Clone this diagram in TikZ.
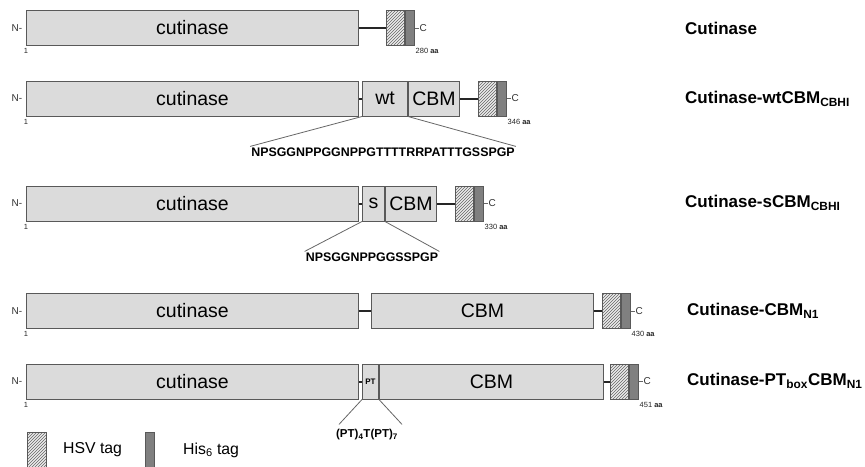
\documentclass[tikz,border=0pt]{standalone}
\usepackage{fontspec}
\setmainfont{Liberation Sans}
\usetikzlibrary{positioning,patterns}

\begin{document}
\begin{tikzpicture}[
    x=1pt, y=-1pt,
    dom/.style={rectangle, draw=black!65, fill=black!14, line width=1pt, minimum height=35pt, inner sep=0pt, anchor=west, font=\fontsize{19.5}{20}\selectfont},
    hsvtag/.style={rectangle, draw=black!65, line width=1pt, minimum height=35pt, minimum width=18pt, inner sep=0pt, anchor=west, preaction={fill=black!8}, pattern=north east lines, pattern color=black!60},
    histag/.style={rectangle, draw=black!65, fill=black!50, line width=1pt, minimum height=35pt, minimum width=9pt, inner sep=0pt, anchor=west},
    link/.style={line width=2pt, black!85},
    fan/.style={black!60, line width=0.8pt},
    endlbl/.style={font=\fontsize{10}{11}\selectfont, text=black!80, inner sep=0.5pt},
    aalbl/.style={font=\fontsize{7.5}{8}\selectfont, text=black!85, inner sep=0.5pt},
    seqlbl/.style={font=\fontsize{12.4}{13}\selectfont\bfseries, inner sep=1pt},
    namelbl/.style={font=\fontsize{17}{18}\selectfont\bfseries, anchor=west, inner sep=0pt},
    keylbl/.style={font=\fontsize{15.8}{16}\selectfont, anchor=west, inner sep=0pt}
]
\useasboundingbox (0,0) rectangle (865,466);

%  -- Cutinase  --
\node[dom, minimum width=332pt] (cut1) at (26,28) {cutinase};
\node[hsvtag] (hsv1) at (386,28) {};
\node[histag] (his1) at (hsv1.east) {};
\draw[link] (cut1) -- (hsv1);
\node[endlbl, left=3pt of cut1] (nterm1) {N-};
\node[endlbl, right=4pt of his1] (cterm1) {C};
\draw[black!60] (his1) -- (cterm1);
\node[aalbl, anchor=north] (first1) at ([yshift=-2pt]cut1.south west) {1};
\node[aalbl, anchor=north west] (len1) at ([yshift=-2pt]his1.south east) {280 \textbf{aa}};
\node[namelbl] (name1) at (685,28) {Cutinase};

%  -- Cutinase-wtCBM  --
\node[dom, minimum width=332pt] (cut2) at (26,98.5) {cutinase};
\node[dom, minimum width=45pt] (wt2) at (362,98.5) {wt};
\node[dom, minimum width=51pt] (cbm2) at (wt2.east) {CBM};
\node[hsvtag] (hsv2) at (478,98.5) {};
\node[histag] (his2) at (hsv2.east) {};
\draw[link] (cut2) -- (wt2);
\draw[link] (cbm2) -- (hsv2);
\node[endlbl, left=3pt of cut2] (nterm2) {N-};
\node[endlbl, right=4pt of his2] (cterm2) {C};
\draw[black!60] (his2) -- (cterm2);
\node[aalbl, anchor=north] (first2) at ([yshift=-2pt]cut2.south west) {1};
\node[aalbl, anchor=north west] (len2) at ([yshift=-2pt]his2.south east) {346 \textbf{aa}};
\node[seqlbl] (seq2) at (383,152) {NPSGGNPPGGNPPGTTTTRRPATTTGSSPGP};
\draw[fan] (wt2.south west) -- (seq2.north west);
\draw[fan] (cbm2.south west) -- (seq2.north east);
\node[namelbl] (name2) at (685,99) {Cutinase-wtCBM\textsubscript{CBHI}};

%  -- Cutinase-sCBM  --
\node[dom, minimum width=332pt] (cut3) at (26,203.5) {cutinase};
\node[dom, minimum width=22pt] (s3) at (362,203.5) {s};
\node[dom, minimum width=51pt] (cbm3) at (s3.east) {CBM};
\node[hsvtag] (hsv3) at (455,203.5) {};
\node[histag] (his3) at (hsv3.east) {};
\draw[link] (cut3) -- (s3);
\draw[link] (cbm3) -- (hsv3);
\node[endlbl, left=3pt of cut3] (nterm3) {N-};
\node[endlbl, right=4pt of his3] (cterm3) {C};
\draw[black!60] (his3) -- (cterm3);
\node[aalbl, anchor=north] (first3) at ([yshift=-2pt]cut3.south west) {1};
\node[aalbl, anchor=north west] (len3) at ([yshift=-2pt]his3.south east) {330 \textbf{aa}};
\node[seqlbl] (seq3) at (372,257) {NPSGGNPPGGSSPGP};
\draw[fan] (s3.south west) -- (seq3.north west);
\draw[fan] (cbm3.south west) -- (seq3.north east);
\node[namelbl] (name3) at (685,203) {Cutinase-sCBM\textsubscript{CBHI}};

%  -- Cutinase-CBM N1  --
\node[dom, minimum width=332pt] (cut4) at (26,311) {cutinase};
\node[dom, minimum width=222pt] (cbm4) at (371,311) {CBM};
\node[hsvtag] (hsv4) at (602,311) {};
\node[histag] (his4) at (hsv4.east) {};
\draw[link] (cut4) -- (cbm4);
\draw[link] (cbm4) -- (hsv4);
\node[endlbl, left=3pt of cut4] (nterm4) {N-};
\node[endlbl, right=4pt of his4] (cterm4) {C};
\draw[black!60] (his4) -- (cterm4);
\node[aalbl, anchor=north] (first4) at ([yshift=-2pt]cut4.south west) {1};
\node[aalbl, anchor=north west] (len4) at ([yshift=-2pt]his4.south east) {430 \textbf{aa}};
\node[namelbl] (name4) at (687,311) {Cutinase-CBM\textsubscript{N1}};

%  -- Cutinase-PTbox CBM N1  --
\node[dom, minimum width=332pt] (cut5) at (26,381.5) {cutinase};
\node[dom, minimum width=16pt, font=\fontsize{8}{8}\selectfont\bfseries] (pt5) at (362,381.5) {PT};
\node[dom, minimum width=224pt] (cbm5) at (pt5.east) {CBM};
\node[hsvtag] (hsv5) at (610,381.5) {};
\node[histag] (his5) at (hsv5.east) {};
\draw[link] (cut5) -- (pt5);
\draw[link] (cbm5) -- (hsv5);
\node[endlbl, left=3pt of cut5] (nterm5) {N-};
\node[endlbl, right=4pt of his5] (cterm5) {C};
\draw[black!60] (his5) -- (cterm5);
\node[aalbl, anchor=north] (first5) at ([yshift=-2pt]cut5.south west) {1};
\node[aalbl, anchor=north west] (len5) at ([yshift=-2pt]his5.south east) {451 \textbf{aa}};
\node[seqlbl, font=\fontsize{11.5}{12}\selectfont\bfseries] (seq5) at (367,435) {(PT)\textsubscript{4}T(PT)\textsubscript{7}};
\draw[fan] (pt5.south west) -- ([xshift=4pt,yshift=4pt]seq5.north west);
\draw[fan] (pt5.south east) -- ([xshift=3pt,yshift=4pt]seq5.north east);
\node[namelbl] (name5) at (687,381) {Cutinase-PT\textsubscript{box}CBM\textsubscript{N1}};

%  -- Key  --
\node[hsvtag, minimum width=19pt, minimum height=38pt, anchor=north west] (keyhsv) at (27,432) {};
\node[keylbl] (keyhsvlbl) at (63,450) {HSV tag};
\node[histag, minimum height=38pt, anchor=north west] (keyhis) at (145,432) {};
\node[keylbl] (keyhislbl) at (183,450) {His\textsubscript{6} tag};

\end{tikzpicture}
\end{document}
